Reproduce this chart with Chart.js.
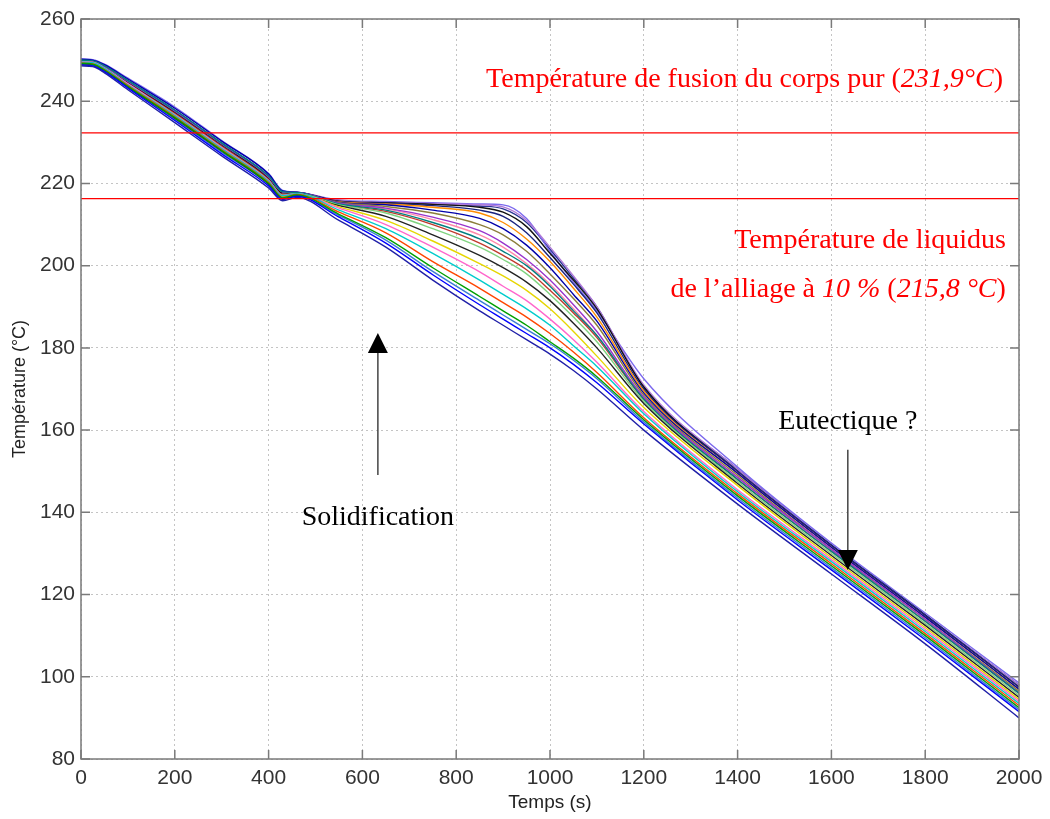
<!DOCTYPE html>
<html>
<head>
<meta charset="utf-8">
<script src="https://cdn.jsdelivr.net/npm/chart.js@4/dist/chart.umd.min.js"></script>
<style>
  html, body { margin: 0; padding: 0; background: #fff; }
  canvas { display: block; }
</style>
</head>
<body>
<canvas id="chart" width="1050" height="819"></canvas>
<script>
// time samples (s) shared by every cooling curve
const times = [0, 25, 50, 100, 200, 300, 400, 430, 460, 550, 650, 750, 850, 900, 950, 1000, 1050, 1100, 1200, 1400, 1600, 1800, 2000];

// temperatures (°C), one row per thermocouple
const cooling = [
  [248.6, 248.4, 246.9, 242.8, 234.8, 226.7, 218.9, 215.8, 216.6, 211.0, 204.5, 196.5, 189.0, 185.5, 182.0, 178.5, 174.5, 170.0, 160.0, 142.0, 125.0, 108.0, 90.0],
  [248.8, 248.6, 247.2, 243.2, 235.3, 227.2, 219.4, 216.1, 216.9, 211.8, 205.5, 197.8, 190.5, 187.0, 183.5, 180.0, 176.0, 171.5, 161.5, 143.0, 126.0, 109.0, 91.5],
  [249.2, 249.0, 247.6, 243.6, 236.0, 228.0, 220.0, 216.5, 217.2, 212.5, 206.8, 199.5, 192.5, 189.0, 185.5, 181.5, 177.5, 173.0, 162.5, 144.0, 127.0, 110.0, 92.5],
  [249.3, 249.1, 247.7, 243.8, 236.2, 228.2, 220.2, 216.6, 217.3, 213.0, 208.0, 201.0, 194.5, 191.0, 187.5, 183.5, 179.0, 174.0, 163.0, 144.5, 127.5, 110.5, 93.0],
  [249.5, 249.4, 248.0, 244.0, 236.5, 228.5, 220.5, 217.0, 217.5, 213.5, 209.0, 203.0, 196.5, 193.0, 189.5, 185.5, 180.5, 175.5, 164.0, 145.0, 128.0, 111.0, 93.5],
  [249.6, 249.5, 248.1, 244.2, 236.7, 228.7, 220.7, 217.1, 217.5, 214.0, 210.0, 204.5, 198.5, 195.0, 191.5, 187.0, 182.0, 176.5, 164.5, 145.5, 128.5, 111.5, 94.0],
  [249.4, 249.3, 247.9, 243.9, 236.4, 228.4, 220.4, 216.9, 217.4, 214.3, 211.0, 206.0, 200.5, 197.5, 194.0, 189.5, 184.0, 178.0, 165.5, 146.5, 129.0, 112.0, 94.5],
  [249.1, 248.9, 247.5, 243.5, 235.9, 227.9, 219.9, 216.4, 217.1, 214.6, 212.0, 207.5, 202.5, 199.5, 196.0, 191.5, 186.0, 180.0, 166.5, 147.0, 129.5, 112.5, 95.0],
  [249.5, 249.4, 248.0, 244.1, 236.6, 228.6, 220.6, 217.0, 217.5, 214.8, 212.8, 209.0, 204.5, 201.5, 198.0, 193.0, 187.5, 181.5, 167.0, 147.5, 130.0, 113.0, 95.5],
  [250.0, 249.8, 248.6, 245.0, 237.8, 229.8, 221.8, 218.0, 217.8, 215.0, 213.5, 210.5, 206.5, 203.5, 200.0, 195.0, 189.0, 183.0, 167.5, 148.0, 130.5, 113.5, 96.0],
  [249.9, 249.7, 248.5, 244.8, 237.6, 229.6, 221.6, 217.9, 217.8, 215.2, 214.0, 211.8, 208.5, 205.5, 201.5, 196.5, 190.5, 184.0, 168.0, 148.5, 131.0, 114.0, 96.0],
  [249.6, 249.5, 248.1, 244.2, 236.8, 228.8, 220.8, 217.2, 217.6, 215.3, 214.4, 212.8, 210.0, 207.5, 203.5, 198.0, 192.0, 185.5, 168.5, 149.0, 131.0, 114.0, 96.5],
  [250.2, 250.0, 248.9, 245.4, 238.3, 230.3, 222.3, 218.2, 217.9, 215.4, 214.8, 213.5, 211.5, 209.0, 205.0, 199.5, 193.0, 186.5, 169.0, 149.5, 131.5, 114.5, 97.0],
  [249.2, 249.0, 247.6, 243.6, 236.0, 228.0, 220.0, 216.5, 217.2, 215.5, 215.0, 214.2, 212.8, 210.5, 206.5, 201.0, 194.5, 187.5, 169.5, 149.5, 131.5, 114.5, 97.0],
  [250.0, 249.8, 248.6, 245.0, 237.8, 229.8, 221.8, 218.0, 217.8, 215.6, 215.2, 214.6, 213.5, 212.0, 208.0, 202.0, 195.5, 188.5, 170.0, 150.0, 132.0, 115.0, 97.5],
  [249.8, 249.6, 248.4, 244.7, 237.4, 229.4, 221.4, 217.7, 217.7, 215.7, 215.3, 214.9, 214.2, 213.0, 209.5, 203.0, 196.5, 189.5, 170.5, 150.0, 132.0, 115.0, 97.5],
  [250.0, 249.8, 248.6, 245.0, 237.8, 229.8, 221.8, 218.0, 217.8, 215.8, 215.4, 215.1, 214.8, 214.3, 211.0, 204.5, 197.5, 190.0, 171.0, 150.5, 132.0, 115.0, 98.0],
  [250.3, 250.1, 249.0, 245.6, 238.6, 230.4, 222.4, 218.3, 217.9, 216.0, 215.6, 215.3, 215.0, 214.8, 211.5, 203.5, 196.0, 189.0, 172.5, 151.0, 132.5, 115.5, 98.5],
  [249.9, 249.7, 248.5, 244.9, 237.7, 229.7, 221.7, 217.9, 217.8, 215.7, 215.4, 215.0, 214.5, 213.8, 210.5, 204.0, 197.0, 190.0, 170.5, 150.5, 132.0, 115.0, 98.0],
  [249.5, 249.4, 248.0, 244.0, 236.5, 228.5, 220.5, 217.0, 217.5, 215.1, 213.8, 211.2, 207.5, 204.5, 200.5, 195.5, 189.5, 183.0, 168.0, 148.5, 130.5, 113.5, 96.0],
  [248.9, 248.7, 247.3, 243.4, 235.6, 227.6, 219.8, 216.3, 217.0, 212.2, 206.2, 198.6, 191.5, 188.0, 184.5, 181.0, 177.0, 172.5, 162.0, 143.5, 126.5, 109.5, 92.0],
  [249.7, 249.6, 248.3, 244.5, 237.1, 229.1, 221.1, 217.4, 217.7, 214.9, 213.2, 210.0, 205.5, 202.5, 199.0, 194.0, 188.5, 182.5, 167.5, 148.0, 130.5, 113.5, 96.0]
];

// reference temperatures drawn as red horizontal lines
const fusionPure = 232.3;
const liquidus = 216.3;

const xTicks = [0, 200, 400, 600, 800, 1000, 1200, 1400, 1600, 1800, 2000];
const yTicks = [80, 100, 120, 140, 160, 180, 200, 220, 240, 260];

const curveColors = ['#1f1fa8', '#0000ff', '#00a000', '#ff4500', '#00cccc', '#ff66cc', '#e6d600', '#222222', '#7fd37f', '#008080',
  '#9933cc', '#8b7d3a', '#0000aa', '#ff8c00', '#1a237e', '#111111', '#b07ad8', '#7b68ee', '#283593', '#ff88aa', '#3a7bd5', '#c0392b'];

const datasets = [
  { data: [{ x: 0, y: fusionPure }, { x: 2000, y: fusionPure }], borderColor: '#ff0000', borderWidth: 1.2 },
  { data: [{ x: 0, y: liquidus }, { x: 2000, y: liquidus }], borderColor: '#ff0000', borderWidth: 1.2 }
];
cooling.forEach((row, i) => {
  datasets.push({
    data: row.map((v, j) => ({ x: times[j], y: v })),
    borderColor: curveColors[i % curveColors.length],
    borderWidth: 1.4,
    cubicInterpolationMode: 'monotone'
  });
});

const serif = '"Liberation Serif", "Times New Roman", serif';

function drawArrow(ctx, x, y0, y1) {
  // shaft from y0 to tip y1, filled triangular head at the tip
  const dir = y1 < y0 ? -1 : 1;
  const head = 20;
  ctx.strokeStyle = '#444';
  ctx.lineWidth = 1.5;
  ctx.beginPath();
  ctx.moveTo(x, y0);
  ctx.lineTo(x, y1 - dir * head);
  ctx.stroke();
  ctx.fillStyle = '#000';
  ctx.beginPath();
  ctx.moveTo(x, y1);
  ctx.lineTo(x - 10, y1 - dir * head);
  ctx.lineTo(x + 10, y1 - dir * head);
  ctx.closePath();
  ctx.fill();
}

function drawMixed(ctx, parts, right, y, size) {
  // parts: [text, italic] drawn left to right, block right-aligned at `right`
  let w = 0;
  parts.forEach(p => {
    ctx.font = (p[1] ? 'italic ' : '') + size + 'px ' + serif;
    w += ctx.measureText(p[0]).width;
  });
  let x = right - w;
  ctx.textAlign = 'left';
  ctx.textBaseline = 'middle';
  parts.forEach(p => {
    ctx.font = (p[1] ? 'italic ' : '') + size + 'px ' + serif;
    ctx.fillText(p[0], x, y);
    x += ctx.measureText(p[0]).width;
  });
}

const decor = {
  id: 'decor',
  afterDatasetsDraw(chart) {
    const { ctx, chartArea: a, scales: { x, y } } = chart;
    ctx.save();
    // matlab box with inward ticks
    ctx.strokeStyle = '#7a7a7a';
    ctx.lineWidth = 1.5;
    ctx.strokeRect(a.left, a.top, a.right - a.left, a.bottom - a.top);
    ctx.beginPath();
    xTicks.forEach(t => {
      const px = x.getPixelForValue(t);
      ctx.moveTo(px, a.bottom); ctx.lineTo(px, a.bottom - 9);
      ctx.moveTo(px, a.top); ctx.lineTo(px, a.top + 9);
    });
    yTicks.forEach(t => {
      const py = y.getPixelForValue(t);
      ctx.moveTo(a.left, py); ctx.lineTo(a.left + 9, py);
      ctx.moveTo(a.right, py); ctx.lineTo(a.right - 9, py);
    });
    ctx.stroke();

    // red annotations
    ctx.fillStyle = '#ff0000';
    drawMixed(ctx, [['Température de fusion du corps pur (', false], ['231,9°C', true], [')', false]],
      x.getPixelForValue(1966), y.getPixelForValue(245.2), 28);
    drawMixed(ctx, [['Température de liquidus', false]],
      x.getPixelForValue(1972), y.getPixelForValue(206.2), 28);
    drawMixed(ctx, [['de l\u2019alliage à ', false], ['10 %', true], [' (', false], ['215,8 °C', true], [')', false]],
      x.getPixelForValue(1972), y.getPixelForValue(194.1), 28);

    // black annotations
    ctx.fillStyle = '#000';
    ctx.font = '28px ' + serif;
    ctx.textAlign = 'center';
    ctx.textBaseline = 'middle';
    ctx.fillText('Solidification', x.getPixelForValue(633), y.getPixelForValue(138.6));
    ctx.fillText('Eutectique ?', x.getPixelForValue(1635), y.getPixelForValue(162));
    drawArrow(ctx, x.getPixelForValue(633), y.getPixelForValue(149.1), y.getPixelForValue(183.6));
    drawArrow(ctx, x.getPixelForValue(1635), y.getPixelForValue(155.2), y.getPixelForValue(126));
    ctx.restore();
  }
};

const axisFont = { family: '"Liberation Sans", Arial, sans-serif', size: 21 };

new Chart(document.getElementById('chart').getContext('2d'), {
  type: 'line',
  data: { datasets },
  options: {
    responsive: false,
    animation: false,
    layout: { padding: { top: 19, right: 31, left: 0, bottom: 0 } },
    elements: { point: { radius: 0 } },
    plugins: { legend: { display: false }, tooltip: { enabled: false } },
    scales: {
      x: {
        type: 'linear',
        min: 0,
        max: 2000,
        afterBuildTicks: s => { s.ticks = xTicks.map(v => ({ value: v })); },
        afterFit: s => { s.height = 60; },
        ticks: { color: '#333', font: axisFont, padding: 7, maxRotation: 0, autoSkip: false, callback: v => String(v) },
        grid: { color: '#c4c4c4', drawTicks: false, lineWidth: 1 },
        border: { display: false, dash: [2, 3] },
        title: { display: true, text: 'Temps (s)', color: '#222', font: { family: axisFont.family, size: 19 }, padding: { top: 0, bottom: 5 } }
      },
      y: {
        min: 80,
        max: 260,
        afterBuildTicks: s => { s.ticks = yTicks.map(v => ({ value: v })); },
        afterFit: s => { s.width = 81; },
        ticks: { color: '#333', font: axisFont, padding: 6, autoSkip: false, callback: v => String(v) },
        grid: { color: '#c4c4c4', drawTicks: false, lineWidth: 1 },
        border: { display: false, dash: [2, 3] },
        title: { display: true, text: 'Température (°C)', color: '#222', font: { family: axisFont.family, size: 18 }, padding: { top: 9, bottom: 0 } }
      }
    }
  },
  plugins: [decor]
});
</script>
</body>
</html>
